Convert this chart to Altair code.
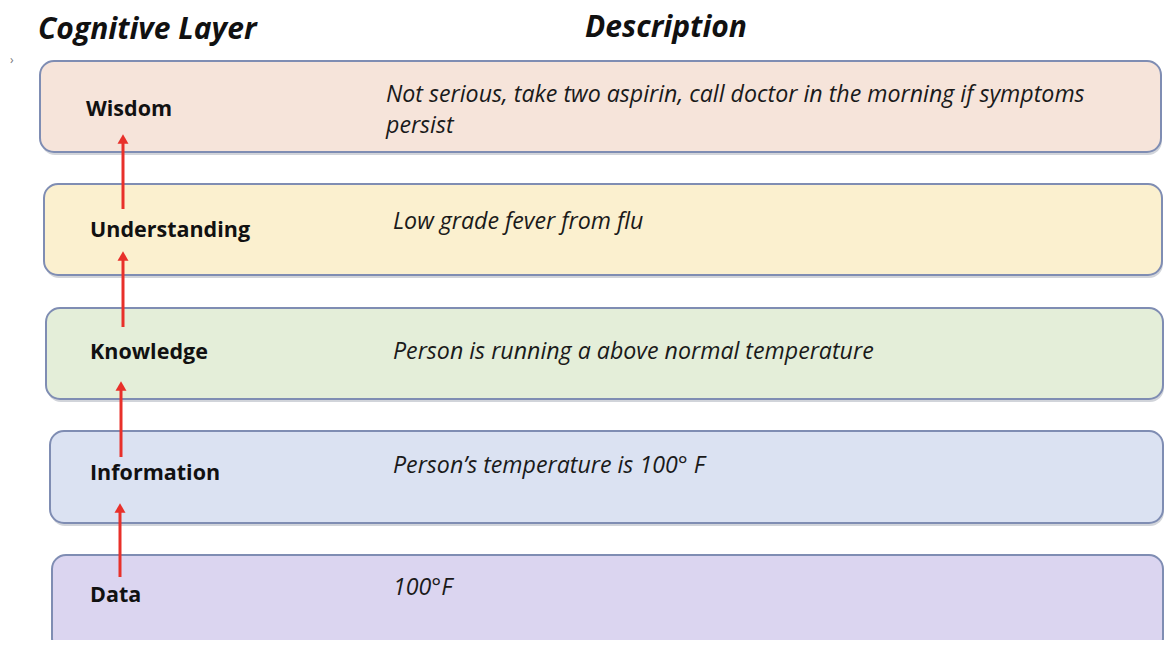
import altair as alt
import pandas as pd

# ---- content ----
layers = ["Wisdom", "Understanding", "Knowledge", "Information", "Data"]
desc_lines = [
    ["Not serious, take two aspirin, call doctor in the morning if symptoms", "persist"],
    ["Low grade fever from flu"],
    ["Person is running a above normal temperature"],
    ["Person\u2019s temperature is 100\u00b0 F"],
    ["100\u00b0F"],
]
fills = ["#f6e4da", "#fbf0cf", "#e4eed9", "#dbe2f2", "#dbd5f0"]

# ---- layout (diagram units = reference pixels) ----
box_left = [40, 44, 46, 50, 52]
box_right = [1161, 1162, 1163, 1163, 1163]
box_top = [61, 184, 308, 431, 555]
box_bottom = [152, 275, 399, 523, 652]
label_x = [86, 90, 90, 90, 90]
label_y = [110, 231, 353, 474, 596]
desc_x = [386, 393, 393, 393, 393]
desc_y = [[95, 126], [222], [352], [466], [588]]
arrow_x = [123, 123, 121, 120]
arrow_tail = [209, 327, 457, 577]
arrow_tip = [133, 250, 380, 502]

X0, X1 = 8, 1164
Y0, Y1 = 8, 640
W, H = X1 - X0, Y1 - Y0

xs = alt.Scale(domain=[X0, X1], nice=False, zero=False)
ys = alt.Scale(domain=[Y0, Y1], nice=False, zero=False, reverse=True)

boxes = pd.DataFrame({
    "layer": layers, "x": box_left, "x2": box_right,
    "y": box_top, "y2": box_bottom, "fill": fills,
})
boxes["xs"] = boxes["x"] + 1
boxes["x2s"] = boxes["x2"] + 1
boxes["ys"] = boxes["y"] + 2
boxes["y2s"] = boxes["y2"] + 3

labels = pd.DataFrame({"text": layers, "x": label_x, "y": label_y})

drows = []
for lines, x, ys_ in zip(desc_lines, desc_x, desc_y):
    for t, y in zip(lines, ys_):
        drows.append({"text": t, "x": x, "y": y})
descs = pd.DataFrame(drows)

arrows = pd.DataFrame({"x": arrow_x, "tail": arrow_tail, "tip": arrow_tip})
arrows["base"] = arrows["tip"] + 7
arrows["headc"] = arrows["tip"] + 6

headers = pd.DataFrame({
    "text": ["Cognitive Layer", "Description"],
    "x": [38, 585], "y": [30, 27.5],
})
mark = pd.DataFrame({"text": ["\u203a"], "x": [10], "y": [60]})

X = lambda f: alt.X(f, type="quantitative", scale=xs, axis=None)
Y = lambda f: alt.Y(f, type="quantitative", scale=ys, axis=None)

FONT = "Open Sans"

shadow = alt.Chart(boxes).mark_rect(
    cornerRadius=14, fill="#9aa0ae", opacity=0.45, clip=True
).encode(x=X("xs"), x2="x2s", y=Y("ys"), y2="y2s")

rects = alt.Chart(boxes).mark_rect(
    cornerRadius=14, stroke="#7f8db3", strokeWidth=2, clip=True
).encode(x=X("x"), x2="x2", y=Y("y"), y2="y2",
         fill=alt.Fill("fill:N", scale=None))

lab = alt.Chart(labels).mark_text(
    font=FONT, fontWeight="bold", fontSize=21.5, align="left",
    baseline="middle", color="#111111"
).encode(x=X("x"), y=Y("y"), text="text:N")

dsc = alt.Chart(descs).mark_text(
    font=FONT, fontStyle="italic", fontSize=23.2, align="left",
    baseline="middle", color="#1a1a1a"
).encode(x=X("x"), y=Y("y"), text="text:N")

hdr = alt.Chart(headers).mark_text(
    font=FONT, fontStyle="italic", fontWeight="bold", fontSize=30,
    align="left", baseline="middle", color="#111111"
).encode(x=X("x"), y=Y("y"), text="text:N")

mk = alt.Chart(mark).mark_text(
    font=FONT, fontSize=12, align="left", baseline="middle", color="#777777"
).encode(x=X("x"), y=Y("y"), text="text:N")

shafts = alt.Chart(arrows).mark_rule(
    color="#e8302a", strokeWidth=3
).encode(x=X("x"), y=Y("tail"), y2="base")

heads = alt.Chart(arrows).mark_point(
    shape="triangle-up", size=120, filled=True, color="#e8302a", opacity=1
).encode(x=X("x"), y=Y("headc"))

chart = alt.layer(shadow, rects, shafts, heads, lab, dsc, hdr, mk).properties(
    width=W, height=H, padding=0, autosize=alt.AutoSizeParams(type="none"),
    background="white",
).configure_view(stroke=None)

chart.save("out.html", embed_options={"renderer": "svg", "actions": False})
